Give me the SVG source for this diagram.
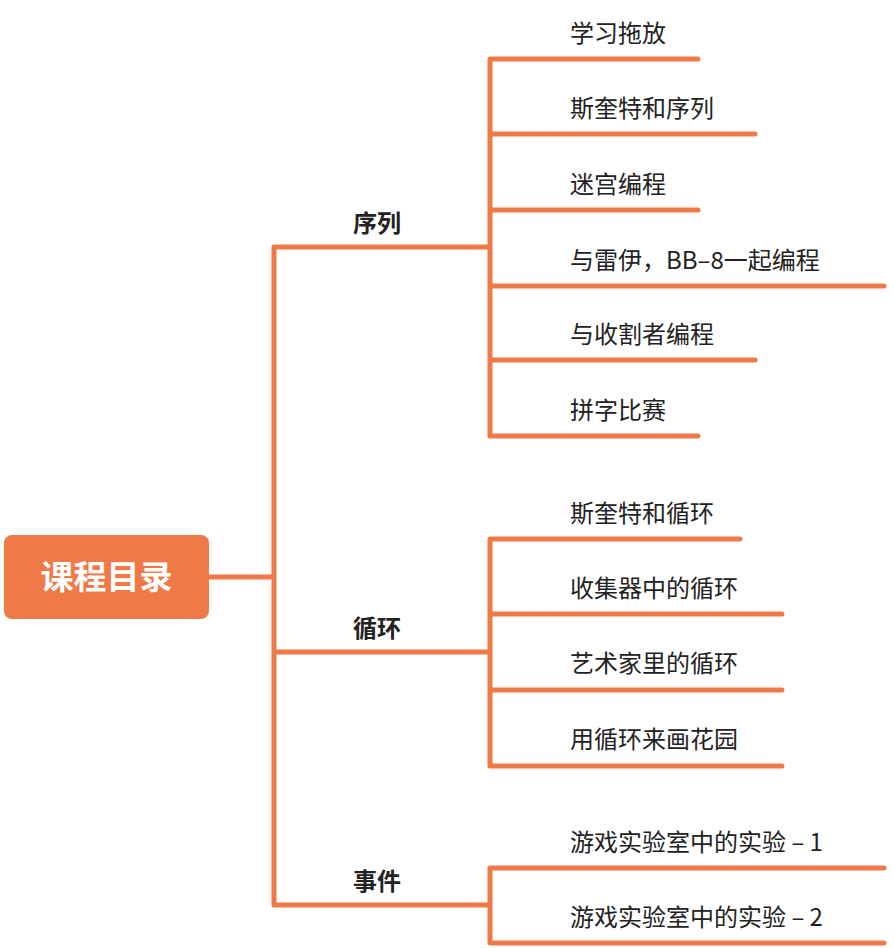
<svg xmlns="http://www.w3.org/2000/svg" width="894" height="948" viewBox="0 0 894 948">
<style>
.c{fill:none;stroke:#EF7A47;stroke-width:5;stroke-linecap:round;stroke-linejoin:round}
.t{font-family:"Noto Sans CJK SC","Liberation Sans",sans-serif;font-size:24px;fill:#222}
.b{font-family:"Noto Sans CJK SC","Liberation Sans",sans-serif;font-size:24px;font-weight:bold;fill:#222}
</style>
<rect width="894" height="948" fill="#fff"/>
<g id="connectors" class="c">
<path d="M209 577H274M274 247V905M274 247H488M274 652H488M274 905H488"/>
<path d="M698 59H490V436H698M490 134H755M490 210H698M490 286H884M490 360H755"/>
<path d="M740 539H490V766H782M490 614H782M490 690H782"/>
<path d="M884 868H490V943H884"/>
</g>
<g id="root"><rect x="4" y="535" width="205" height="84" rx="8" fill="#EF7A47"/><text x="106.5" y="589" text-anchor="middle" font-family="Noto Sans CJK SC,sans-serif" font-size="33" font-weight="bold" fill="#fff">课程目录</text></g>
<g id="b1"><text class="b" x="353" y="232">序列</text></g>
<g id="b2"><text class="b" x="353" y="637">循环</text></g>
<g id="b3"><text class="b" x="353" y="890">事件</text></g>
<g id="l1"><text class="t" x="570" y="42">学习拖放</text></g>
<g id="l2"><text class="t" x="570" y="117">斯奎特和序列</text></g>
<g id="l3"><text class="t" x="570" y="193">迷宫编程</text></g>
<g id="l4"><text class="t" x="570" y="269">与雷伊，BB–8一起编程</text></g>
<g id="l5"><text class="t" x="570" y="343">与收割者编程</text></g>
<g id="l6"><text class="t" x="570" y="419">拼字比赛</text></g>
<g id="l7"><text class="t" x="570" y="522">斯奎特和循环</text></g>
<g id="l8"><text class="t" x="570" y="597">收集器中的循环</text></g>
<g id="l9"><text class="t" x="570" y="672">艺术家里的循环</text></g>
<g id="l10"><text class="t" x="570" y="748">用循环来画花园</text></g>
<g id="l11"><text class="t" x="570" y="851">游戏实验室中的实验 – 1</text></g>
<g id="l12"><text class="t" x="570" y="926">游戏实验室中的实验 – 2</text></g>
</svg>
